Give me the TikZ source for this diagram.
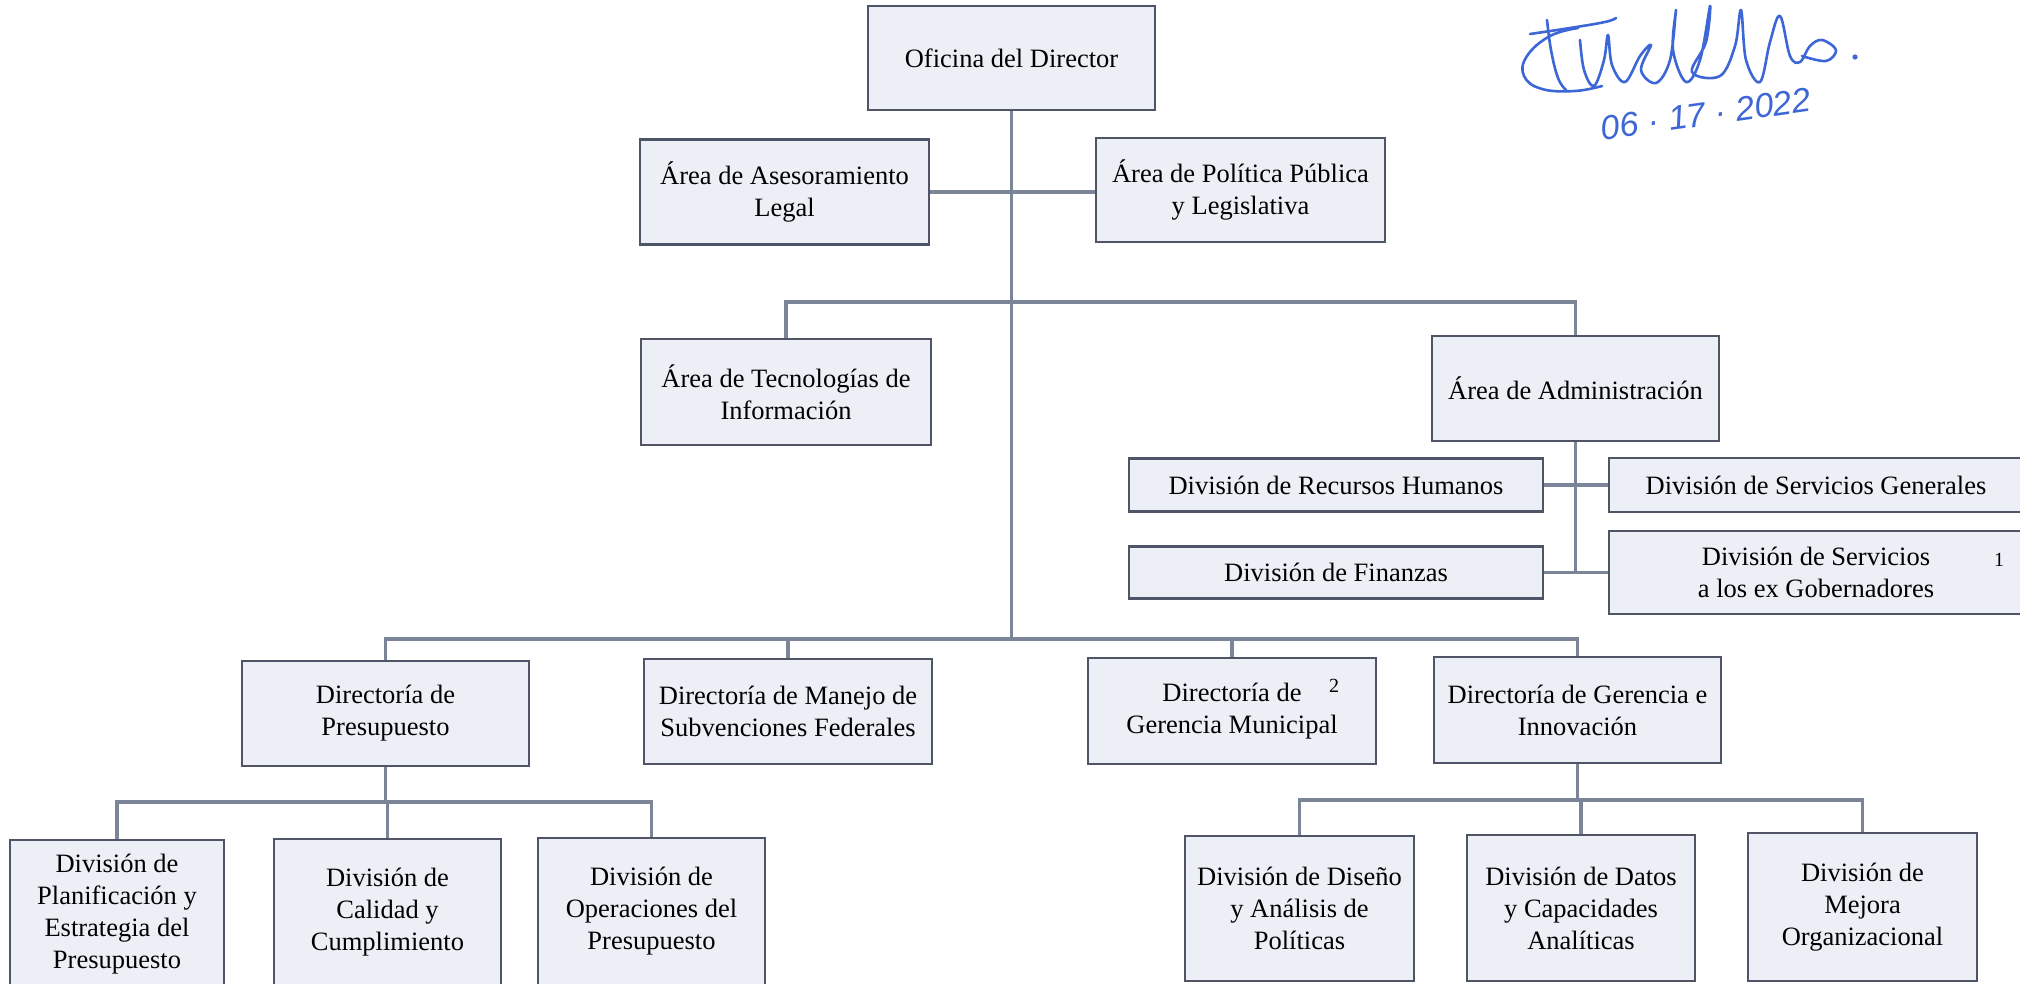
\documentclass[tikz,border=0pt]{standalone}
\usepackage{fontspec}
\setmainfont{Liberation Serif}
\newfontfamily\handfont{Liberation Sans}
\definecolor{boxfill}{HTML}{EDEFF7}
\definecolor{boxborder}{HTML}{4F5566}
\definecolor{linecol}{HTML}{7C8598}
\definecolor{sigblue}{HTML}{3D66D6}
\tikzset{
  orgbox/.style={draw=boxborder, line width=2.2pt, fill=boxfill, align=center, inner sep=0pt,
    font=\fontsize{26.5}{32}\selectfont, text=black},
  conn/.style={draw=linecol, line width=3.5pt},
  fnote/.style={inner sep=0pt, font=\fontsize{20}{22}\selectfont},
  sig/.style={draw=sigblue, line width=2.6pt, line cap=round, line join=round}
}
\begin{document}
\begin{tikzpicture}[x=1pt,y=-1pt]
\useasboundingbox (0,0) rectangle (2020,983);
\clip (0,0) rectangle (2020,983);
\fill[white] (0,0) rectangle (2020,983);

% nodes
\node[orgbox, minimum width=287, minimum height=104] (of) at (1011.5,58) {Oficina del Director};
\node[orgbox, minimum width=289, minimum height=105] (legal) at (784.5,192) {Área de Asesoramiento\\Legal};
\node[orgbox, minimum width=289, minimum height=104] (pol) at (1240.5,190) {Área de Política Pública\\y Legislativa};
\node[orgbox, minimum width=290, minimum height=106] (tec) at (786,392) {Área de Tecnologías de\\Información};
\node[orgbox, minimum width=287, minimum height=105] (adm) at (1575.5,388.5) {Área de Administración};
\node[orgbox, minimum width=414, minimum height=53] (rh) at (1336,485) {División de Recursos Humanos};
\node[orgbox, minimum width=414, minimum height=54] (sg) at (1816,485) {División de Servicios Generales};
\node[orgbox, minimum width=414, minimum height=52] (fin) at (1336,572.5) {División de Finanzas};
\node[orgbox, minimum width=414, minimum height=83] (exg) at (1816,572.5) {División de Servicios\\a los ex Gobernadores};
\node[orgbox, minimum width=287, minimum height=105] (dp) at (385.5,713.5) {Directoría de\\Presupuesto};
\node[orgbox, minimum width=288, minimum height=105] (msf) at (788,711.5) {Directoría de Manejo de\\Subvenciones Federales};
\node[orgbox, minimum width=288, minimum height=106] (gm) at (1232,711) {Directoría de\\Gerencia Municipal};
\node[orgbox, minimum width=287, minimum height=106] (gi) at (1577.5,710) {Directoría de Gerencia e\\Innovación};
\node[orgbox, minimum width=214, minimum height=148] (pl) at (117,914) {División de\\Planificación y\\Estrategia del\\Presupuesto};
\node[orgbox, minimum width=227, minimum height=146] (cal) at (387.5,912) {División de\\Calidad y\\Cumplimiento};
\node[orgbox, minimum width=227, minimum height=147] (ops) at (651.5,911.5) {División de\\Operaciones del\\Presupuesto};
\node[orgbox, minimum width=229, minimum height=145] (dis) at (1299.5,908.5) {División de Diseño\\y Análisis de\\Políticas};
\node[orgbox, minimum width=228, minimum height=146] (dat) at (1581,908) {División de Datos\\y Capacidades\\Analíticas};
\node[orgbox, minimum width=229, minimum height=148] (mej) at (1862.5,907) {División de\\Mejora\\Organizacional};

\node[fnote] (fn1) at (1999,560) {1};
\node[fnote] (fn2) at (1334,686) {2};

% junction coordinates
\coordinate (l2) at (1013,302);
\coordinate (l3) at (1013,639);
\coordinate (l4) at (386,802);
\coordinate (l5) at (1578,800);

% connectors
\draw[conn] (of.south) -- (of.south |- l3);
\draw[conn] (legal.east) -- (legal.east -| pol.west);
\draw[conn] (tec.north) |- (l2) -| (adm.north);
\draw[conn] (adm.south) -- (adm.south |- fin.east);
\draw[conn] (rh.east) -- (sg.west);
\draw[conn] (fin.east) -- (exg.west);
\draw[conn] (dp.north) |- (l3) -| (gi.north);
\draw[conn] (msf.north) -- (msf.north |- l3);
\draw[conn] (gm.north) -- (gm.north |- l3);
\draw[conn] (dp.south) -- (dp.south |- l4);
\draw[conn] (pl.north) |- (l4) -| (ops.north);
\draw[conn] (cal.north) -- (cal.north |- l4);
\draw[conn] (gi.south) -- (gi.south |- l5);
\draw[conn] (dis.north) |- (l5) -| (mej.north);
\draw[conn] (dat.north) -- (dat.north |- l5);

% signature
\draw[sig] plot[smooth, tension=0.7] coordinates {(1578,28) (1550,36) (1527,56) (1524,76) (1542,89) (1575,91) (1602,86)};
\draw[sig] plot[smooth, tension=0.7] coordinates {(1547,20) (1551,50) (1558,78) (1566,90)};
\draw[sig] plot[smooth, tension=0.7] coordinates {(1530,34) (1570,28) (1605,22) (1616,18)};
\draw[sig] plot[smooth, tension=0.6] coordinates {(1580,40) (1584,70) (1594,86) (1604,60) (1608,35) (1612,65) (1625,82) (1640,56) (1651,45) (1641,70) (1656,83) (1670,60) (1676,10) (1673,50) (1686,82) (1700,60) (1710,6) (1706,42) (1692,72) (1720,76) (1735,46) (1741,10) (1746,60) (1760,82) (1770,42) (1780,16) (1790,56) (1800,62) (1810,46) (1822,40) (1836,50) (1826,61) (1802,56)};
\fill[sigblue] (1855,57) circle (2.6);
\node[inner sep=0pt, text=sigblue, rotate=8, font=\handfont\itshape\fontsize{34}{38}\selectfont] (date) at (1706,114) {06 · 17 · 2022};
\end{tikzpicture}
\end{document}
